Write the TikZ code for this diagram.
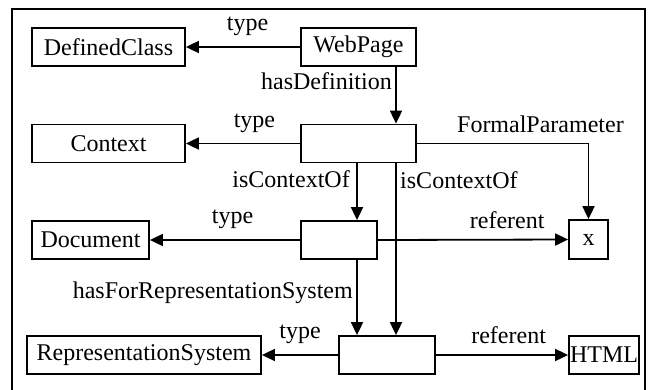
\documentclass[tikz,border=0pt]{standalone}
\usepackage{fontspec}
\setmainfont{Liberation Serif}
\usetikzlibrary{arrows.meta}

\tikzset{
  box/.style={draw, line width=1.8pt, inner sep=0pt, minimum height=38pt},
  rel/.style={line width=1.8pt, -{Triangle[length=13pt,width=12pt]}},
  lbl/.style={above=7pt}
}

\begin{document}
\begin{tikzpicture}[x=1pt, y=-1pt, font=\fontsize{24}{28}\selectfont]
  \useasboundingbox (0,0) rectangle (650,389);
  \draw[line width=1.8pt] (12,9) rectangle (645,400); % outer frame

  % concept boxes (left column)
  \node[box, minimum width=153pt] (defclass) at (108.5,47) {DefinedClass};
  \node[box, minimum width=153pt] (context) at (108.5,143.5) {Context};
  \node[box, minimum width=117pt] (document) at (90.5,240) {Document};
  \node[box, minimum width=234pt] (repsys) at (144,355) {RepresentationSystem};

  % instance boxes
  \node[box, minimum width=115pt] (webpage) at (358.5,47) {WebPage};
  \node[box, minimum width=115pt] (ctxinst) at (358.5,143.5) {};
  \node[box, minimum width=76pt] (docinst) at (339,240) {};
  \node[box, minimum width=96pt] (repinst) at (387,355) {};

  % right column
  \node[box, minimum width=39pt, minimum height=39pt] (param) at (588.5,239.5) {x};
  \node[box, minimum width=70pt] (html) at (604,355) {HTML};

  % columns of the vertical links
  \coordinate (colA) at (357,0);
  \coordinate (colB) at (396,0);

  % type links
  \draw[rel] (webpage.west) -- (defclass.east) node[lbl, pos=0.46] {type};
  \draw[rel] (ctxinst.west) -- (context.east) node[lbl, pos=0.4] {type};
  \draw[rel] (docinst.west) -- (document.east) node[lbl, pos=0.45] {type};
  \draw[rel] (repinst.west) -- (repsys.east) node[lbl, pos=0.5] {type};

  % vertical links
  \draw[rel] (webpage.south -| colB) -- (ctxinst.north -| colB)
    node[left, pos=0.25] {hasDefinition};
  \draw[rel] (ctxinst.south -| colA) -- (docinst.north -| colA)
    node[left=3pt, pos=0.28] {isContextOf};
  \draw[rel] (ctxinst.south -| colB) -- (repinst.north -| colB)
    node[right, pos=0.1] {isContextOf};
  \draw[rel] (docinst.south -| colA) -- (repinst.north -| colA)
    node[left, pos=0.44] {hasForRepresentationSystem};

  % referents
  \draw[rel] (ctxinst.east) -| (param.north) node[lbl, pos=0.36] {FormalParameter};
  \draw[rel] (docinst.east) -- (param.west) node[lbl, pos=0.68] {referent};
  \draw[rel] (repinst.east) -- (html.west) node[lbl, pos=0.55] {referent};
\end{tikzpicture}
\end{document}
